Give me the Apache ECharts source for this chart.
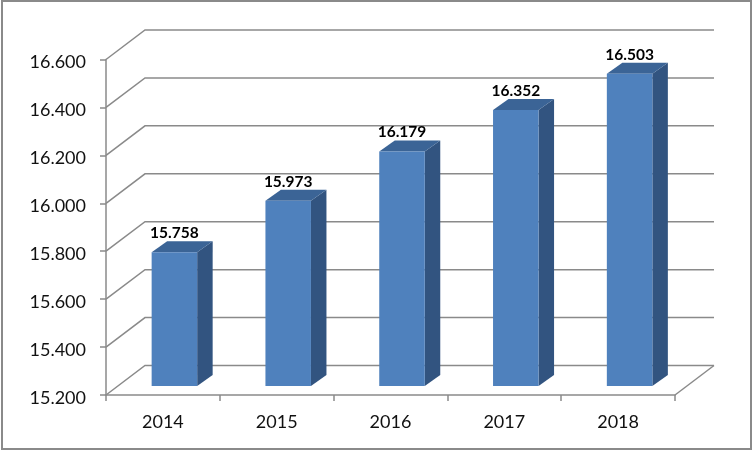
<!DOCTYPE html>
<html>
<head>
<meta charset="utf-8">
<style>html,body{margin:0;padding:0;background:#fff}#c{width:753px;height:451px}</style>
<script src="https://cdn.jsdelivr.net/npm/echarts@6/dist/echarts.min.js"></script>
</head>
<body>
<div id="c"></div>
<script>
var categories = ['2014', '2015', '2016', '2017', '2018'];
var values = [15.758, 15.973, 16.179, 16.352, 16.503];
var yTicks = [15.2, 15.4, 15.6, 15.8, 16.0, 16.2, 16.4, 16.6];

var GRAY = '#8a8a8a';
var WALL = [39, -29.5], BAR_FRONT = [11.5, -9], BAR_BACK = [27, -20];
var FRONT = '#4f81bd', SIDE = '#325480', TOP = '#3b6496';
var chart = echarts.init(document.getElementById('c'), null, {renderer: 'canvas'});

function add(p, o) { return [p[0] + o[0], p[1] + o[1]]; }

chart.setOption({
  animation: false,
  backgroundColor: '#fff',
  graphic: [{type: 'rect', z: 0, shape: {x: 2, y: 1, width: 749, height: 448},
    style: {fill: 'none', stroke: GRAY, lineWidth: 2}}],
  grid: {left: 106, right: 78, top: 59.5, bottom: 56},
  xAxis: {
    type: 'category', data: categories,
    axisLine: {lineStyle: {color: GRAY, width: 1.5}},
    axisTick: {show: true, length: 6, alignWithLabel: false, lineStyle: {color: GRAY, width: 1.5}},
    axisLabel: {color: '#111', fontFamily: 'Lato', fontSize: 18, margin: 18}
  },
  yAxis: {
    type: 'value', min: 15.2, max: 16.6, interval: 0.2,
    axisLine: {show: true, lineStyle: {color: GRAY, width: 1.5}},
    axisTick: {show: true, length: 6, lineStyle: {color: GRAY, width: 1.5}},
    splitLine: {show: false},
    axisLabel: {color: '#111', fontFamily: 'Lato', fontSize: 18, margin: 20, verticalAlign: 'top', lineHeight: 6,
      formatter: function (v) { return v.toFixed(3); }}
  },
  series: [
    {
      type: 'custom', z: 1, silent: true, clip: false,
      data: yTicks.map(function (t) { return [0, t]; }),
      encode: {x: 0, y: 1},
      renderItem: function (params, api) {
        var band = api.size([1, 0])[0];
        var c = api.coord([0, api.value(1)]);
        var a = [c[0] - band / 2, c[1]];
        var b = [a[0] + band * categories.length, c[1]];
        var items = [{
          type: 'polyline',
          shape: {points: [a, add(a, WALL), add(b, WALL)]},
          style: {fill: 'none', stroke: GRAY, lineWidth: 1.5}
        }];
        if (params.dataIndex === 0) {
          items.push({
            type: 'line',
            shape: {x1: b[0], y1: b[1], x2: b[0] + WALL[0], y2: b[1] + WALL[1]},
            style: {stroke: GRAY, lineWidth: 1.5}
          });
        }
        return {type: 'group', children: items};
      }
    },
    {
      type: 'custom', z: 2, silent: true, clip: false,
      data: values.map(function (v, i) { return [i, v]; }),
      encode: {x: 0, y: 1},
      renderItem: function (params, api) {
        var i = api.value(0), v = api.value(1);
        var w = api.size([1, 0])[0] * 0.4;
        var top = api.coord([i, v]), base = api.coord([i, yTicks[0]]);
        var tl = add([top[0] - w / 2, top[1]], BAR_FRONT);
        var tr = add([top[0] + w / 2, top[1]], BAR_FRONT);
        var bl = add([base[0] - w / 2, base[1]], BAR_FRONT);
        var br = add([base[0] + w / 2, base[1]], BAR_FRONT);
        var d = [BAR_BACK[0] - BAR_FRONT[0], BAR_BACK[1] - BAR_FRONT[1]];
        return {type: 'group', children: [
          {type: 'polygon', shape: {points: [tr, add(tr, d), add(br, d), br]}, style: {fill: SIDE}},
          {type: 'polygon', shape: {points: [tl, add(tl, d), add(tr, d), tr]}, style: {fill: TOP}},
          {type: 'polygon', shape: {points: [tl, tr, br, bl]}, style: {fill: FRONT}},
          {type: 'text', style: {
            x: top[0] + BAR_FRONT[0], y: tl[1] + d[1],
            text: v.toFixed(3), align: 'center', verticalAlign: 'bottom',
            fill: '#000', font: 'bold 15.5px Lato'
          }}
        ]};
      }
    }
  ]
});
</script>
</body>
</html>
